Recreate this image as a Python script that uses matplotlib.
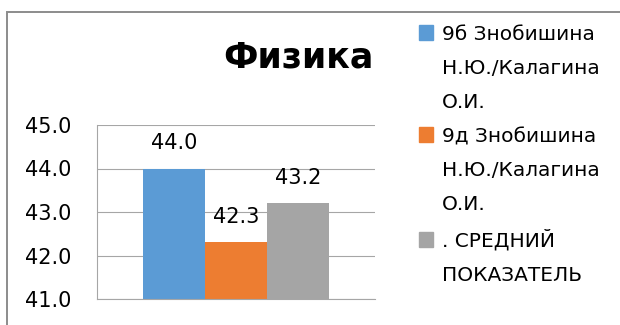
import numpy as np
import matplotlib.pyplot as plt
from matplotlib.patches import Rectangle

# данные
series = ['9б Знобишина\nН.Ю./Калагина\nО.И.',
          '9д Знобишина\nН.Ю./Калагина\nО.И.',
          '. СРЕДНИЙ\nПОКАЗАТЕЛЬ']
values = [44.0, 42.3, 43.2]
colors = ['#5B9BD5', '#ED7D31', '#A5A5A5']
y_ticks = [41.0, 42.0, 43.0, 44.0, 45.0]

W, H = 620, 325
plt.rcParams['font.family'] = ['DejaVu Sans']

fig = plt.figure(figsize=(W / 100, H / 100), dpi=100)

def fx(x):
    return x / W

def fy(y):
    return 1 - y / H

# рамка области диаграммы
fig.patches.append(Rectangle((fx(6.5), fy(400)), 1.2, fy(12.5) - fy(400),
                             transform=fig.transFigure, fill=False,
                             edgecolor='#8C8C8C', linewidth=1.4, clip_on=False))

ax = fig.add_axes([fx(97), fy(299), fx(375) - fx(97), fy(125) - fy(299)])
x = np.arange(len(values))
bars = ax.bar(x, values, width=1.0, color=colors, bottom=0)
ax.set_ylim(41, 45)
ax.set_xlim(-0.5 - 46 / 62, 2.5 + 46 / 62)
ax.set_yticks(y_ticks)
ax.set_yticklabels([f'{t:.1f}' for t in y_ticks], fontsize=15)
ax.set_xticks([])
ax.tick_params(axis='y', length=0, pad=18.5)
ax.yaxis.grid(True, color='#A6A6A6', linewidth=0.8)
ax.set_axisbelow(True)
for s in ['top', 'right']:
    ax.spines[s].set_visible(False)
for s in ['left', 'bottom']:
    ax.spines[s].set_color('#A6A6A6')
    ax.spines[s].set_linewidth(0.8)

# подписи значений
for b, v in zip(bars, values):
    ax.annotate(f'{v:.1f}', (b.get_x() + b.get_width() / 2, v),
                xytext=(0, 14), textcoords='offset points',
                ha='center', va='baseline', fontsize=15)

fig.text(fx(298), fy(68), 'Физика', ha='center', va='baseline',
         fontsize=25, fontweight='bold')

# легенда
first_baselines = [40, 142, 247]
step = 34
for lab, col, y0 in zip(series, colors, first_baselines):
    fig.patches.append(Rectangle((fx(419), fy(y0)), fx(14), fy(0) - fy(15),
                                 transform=fig.transFigure, color=col))
    for i, line in enumerate(lab.split('\n')):
        fig.text(fx(442), fy(y0 + i * step), line, ha='left', va='baseline',
                 fontsize=14.5)

fig.savefig('out.png', dpi=100)
